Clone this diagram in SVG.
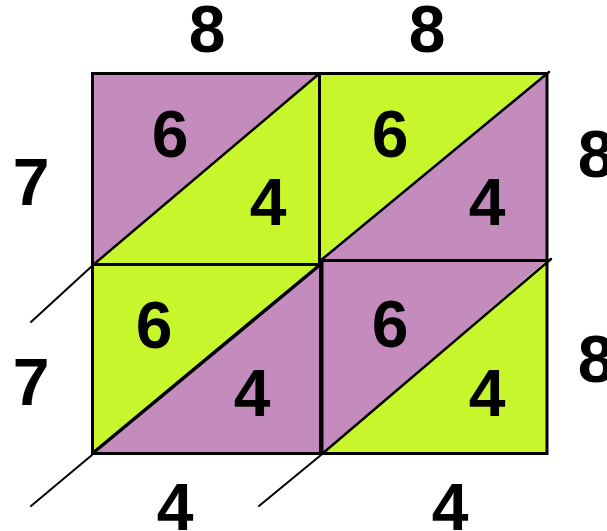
<svg xmlns="http://www.w3.org/2000/svg" width="607" height="531" viewBox="0 0 607 531">
<style>
.p{fill:#C48CBD}
.g{fill:#C8F62C}
.e{fill:none;stroke:#000;stroke-width:3;stroke-linejoin:miter}
.d{stroke:#000;stroke-width:2.5;stroke-linecap:round}
.x{stroke:#000;stroke-width:2;stroke-linecap:round}
text{font-family:"Liberation Sans",Arial,sans-serif;font-weight:bold;font-size:66px;fill:#000;text-anchor:middle}
</style>
<rect width="607" height="531" fill="#fff"/>
<g id="cell-tl">
<polygon class="p" points="92,73 320,73 92,265"/>
<polygon class="g" points="320,73 320,265 92,265"/>
<rect class="e" x="92.5" y="73.5" width="227" height="191"/>
<text x="170" y="157">6</text>
<text x="268" y="225">4</text>
</g>
<g id="cell-tr">
<polygon class="g" points="320,73 547,73 320,261"/>
<polygon class="p" points="547,73 547,261 320,261"/>
<rect class="e" x="319.5" y="73.5" width="227.5" height="187"/>
<text x="390" y="157">6</text>
<text x="487" y="225">4</text>
</g>
<g id="cell-bl">
<polygon class="g" points="92,265 321,265 92,454"/>
<polygon class="p" points="321,265 321,454 92,454"/>
<rect class="e" x="92.5" y="264.5" width="228" height="189"/>
<text x="154" y="348">6</text>
<text x="252" y="416">4</text>
</g>
<g id="cell-br">
<polygon class="p" points="322,260 547,260 322,454"/>
<polygon class="g" points="547,260 547,454 322,454"/>
<rect class="e" x="322" y="260.5" width="225" height="193"/>
<text x="390" y="347">6</text>
<text x="487" y="416">4</text>
</g>
<g id="labels">
<text x="207" y="52">8</text>
<text x="427" y="52">8</text>
<text x="31" y="205">7</text>
<text x="31" y="405">7</text>
<text x="596" y="177">8</text>
<text x="596" y="382">8</text>
<text x="175" y="530">4</text>
<text x="450" y="530">4</text>
</g>
<g id="connectors">
<line class="d" x1="93" y1="265" x2="320" y2="73"/>
<line class="d" x1="320" y1="261" x2="549" y2="72"/>
<line class="d" x1="93" y1="453" x2="321" y2="264" style="stroke-width:3.5"/>
<line class="d" x1="322" y1="454" x2="551" y2="259"/>
<line class="x" x1="31" y1="322" x2="92" y2="266"/>
<line class="x" x1="31" y1="506" x2="92" y2="455"/>
<line class="x" x1="259" y1="506" x2="321" y2="455"/>
</g>
</svg>
